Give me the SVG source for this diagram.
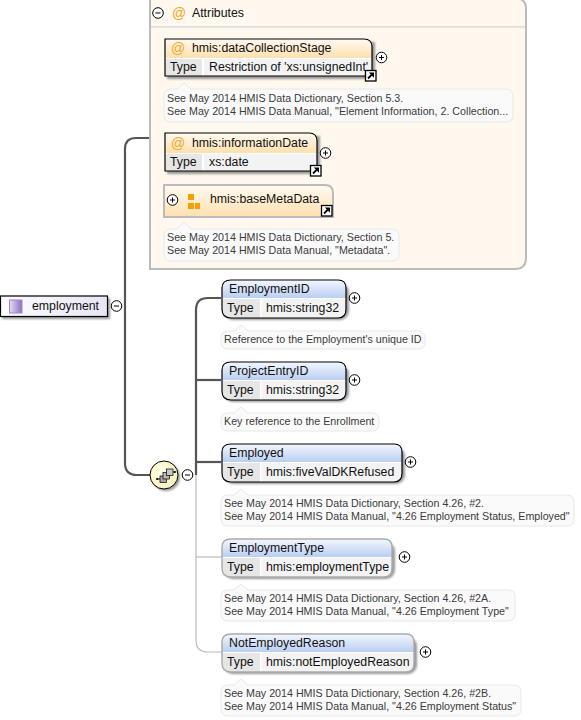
<svg xmlns="http://www.w3.org/2000/svg" width="581" height="720" viewBox="0 0 581 720">
<style>
text{font-family:"Liberation Sans",Arial,sans-serif;fill:#000}
.n{font-size:12.3px;fill:#111}
.d{font-size:10.7px;fill:#3a3a3a}
.at{font-size:14px;fill:#f5a623}
.note{fill:#fafafa;stroke:#e8e8e8;stroke-width:1}
.cell{fill:#e6e6e6}
.val{fill:#f3f3f3}
.sym{fill:#fff;stroke:#000;stroke-width:1}
.symt{stroke:#000;stroke-width:1;fill:none}
.blk{fill:none;stroke:#000;stroke-width:1.2}
.gry{fill:none;stroke:#aaa;stroke-width:1.4}
.con{fill:none;stroke:#555;stroke-width:2.2}
.lite{fill:none;stroke:#bbb;stroke-width:1.2}
.sh{fill:#777;opacity:.75;filter:url(#bl)}
</style>
<defs>
<filter id="bl" x="-10%" y="-20%" width="120%" height="140%"><feGaussianBlur stdDeviation=".9"/></filter>
<linearGradient id="o" x1="0" y1="0" x2="0" y2="1"><stop offset="0" stop-color="#fffaf2"/><stop offset=".52" stop-color="#ffe0ae"/></linearGradient>
<linearGradient id="o2" x1="0" y1="0" x2="0" y2="1"><stop offset="0" stop-color="#fffaf2"/><stop offset="1" stop-color="#ffe0ae"/></linearGradient>
<linearGradient id="b" x1="0" y1="0" x2="0" y2="1"><stop offset="0" stop-color="#f4f7fe"/><stop offset=".5" stop-color="#b6ccf2"/></linearGradient>
<linearGradient id="p" x1="0" y1="0" x2="1" y2="0"><stop offset="0" stop-color="#fdfcff"/><stop offset="1" stop-color="#e8e4f4"/></linearGradient>
<linearGradient id="pi" x1="0" y1="0" x2="1" y2="0"><stop offset="0" stop-color="#e4ddf4"/><stop offset="1" stop-color="#8a70c0"/></linearGradient>
<linearGradient id="dv" x1="0" y1="0" x2="0" y2="1"><stop offset="0" stop-color="#d8d8d8"/><stop offset="1" stop-color="#fff8ee"/></linearGradient>
<radialGradient id="y" cx=".4" cy=".4" r=".7"><stop offset="0" stop-color="#ffffe6"/><stop offset="1" stop-color="#f6f0b8"/></radialGradient>
<g id="plus"><circle r="5.300" class="sym"/><path d="M-2.500 0H2.500M0-2.500V2.500" class="symt"/></g>
<g id="minus"><circle r="5.300" class="sym"/><path d="M-2.500 0H2.500" class="symt"/></g>
<g id="link"><rect x=".5" y=".5" width="10.500" height="10.500" fill="#fff" stroke="#000" stroke-width="1.300"/><path d="M3 8.500L6.800 4.700" stroke="#000" stroke-width="1.800"/><path d="M3.800 2.500H9V7.700Z" fill="#000"/></g>
</defs>

<g id="connectors">
<path class="con" d="M125 306V149Q125 138 136 138H165"/>
<path class="con" d="M125 306V463Q125 475 137 475H151"/>
<path class="con" d="M196 475V310Q196 298 208 298H221"/>
<path class="con" d="M196 380H221"/>
<path class="con" d="M196 462H221"/>
<path class="lite" d="M196 475V640Q196 652 208 652H222"/>
<path class="lite" d="M196 557H222"/>
</g>

<g id="attributes">
<path d="M150 -2H515Q526 -2 526 9V258Q526 269 515 269H150Z" fill="#fff8ee" stroke="#bbb" stroke-width="2"/>
<rect x="151" y="26" width="374" height="3" fill="url(#dv)"/>
<use href="#minus" x="158" y="13"/>
<text class="at" x="172" y="18">@</text>
<text class="n" x="192" y="17">Attributes</text>
</g>

<g id="dataCollectionStage">
<rect x="167" y="42" width="208" height="37" class="sh"/>
<path d="M165 39H364Q372 39 372 47V76H165Z" fill="url(#o)"/>
<rect x="165" y="58" width="207" height="18" fill="#fff"/>
<rect x="165" y="59" width="37" height="17" class="cell"/>
<rect x="204" y="59" width="168" height="17" class="val"/>
<path class="blk" d="M165 39H364Q372 39 372 47V76H165Z"/>
<text class="at" x="171" y="53">@</text>
<text class="n" x="192" y="52">hmis:dataCollectionStage</text>
<text class="n" x="170" y="71">Type</text>
<text class="n" x="209" y="71">Restriction of 'xs:unsignedInt'</text>
<use href="#link" x="365" y="70"/>
<use href="#plus" x="381.500" y="57.500"/>
</g>
<g id="note1">
<path class="note" d="M171 89Q164 89 164 96V115Q164 122 171 122H506Q513 122 513 115V96Q513 89 506 89H191L184 83L177 89Z"/>
<text class="d" x="167" y="102">See May 2014 HMIS Data Dictionary, Section 5.3.</text>
<text class="d" x="167" y="115">See May 2014 HMIS Data Manual, "Element Information, 2. Collection...</text>
</g>

<g id="informationDate">
<rect x="167" y="136" width="153" height="38" class="sh"/>
<path d="M165 133H309Q317 133 317 141V171H165Z" fill="url(#o)"/>
<rect x="165" y="153" width="152" height="18" fill="#fff"/>
<rect x="165" y="154" width="37" height="17" class="cell"/>
<rect x="204" y="154" width="113" height="17" class="val"/>
<path class="blk" d="M165 133H309Q317 133 317 141V171H165Z"/>
<text class="at" x="171" y="148">@</text>
<text class="n" x="192" y="147">hmis:informationDate</text>
<text class="n" x="170" y="166">Type</text>
<text class="n" x="209" y="166">xs:date</text>
<use href="#link" x="310" y="165"/>
<use href="#plus" x="325.500" y="153"/>
</g>

<g id="baseMetaData">
<path d="M164 185H325Q333 185 333 193V217H164Z" fill="url(#o2)" stroke="#bbb" stroke-width="2"/>
<use href="#plus" x="172.500" y="200"/>
<path d="M188 194H194V200H188ZM188 203H194V209H188ZM195 203H200V209H195Z" fill="#f5a000"/>
<text class="n" x="210" y="203">hmis:baseMetaData</text>
<use href="#link" x="321" y="205"/>
</g>
<g id="note2">
<path class="note" d="M171 229Q164 229 164 236V254Q164 261 171 261H392Q399 261 399 254V236Q399 229 392 229H191L184 222L177 229Z"/>
<text class="d" x="167" y="241">See May 2014 HMIS Data Dictionary, Section 5.</text>
<text class="d" x="167" y="254">See May 2014 HMIS Data Manual, "Metadata".</text>
</g>

<g id="employment">
<rect x="2" y="298" width="108" height="21" class="sh"/>
<rect x=".5" y="296" width="107" height="20.500" fill="url(#p)" stroke="#000" stroke-width="1.200"/>
<rect x="9.500" y="300" width="12.500" height="13" fill="url(#pi)" stroke="#9a88c8"/>
<text class="n" x="32" y="310">employment</text>
<use href="#minus" x="116.500" y="306"/>
</g>

<g id="sequence">
<circle cx="166" cy="477" r="14" class="sh"/>
<circle cx="164" cy="475" r="14" fill="url(#y)" stroke="#000"/>
<path d="M157 479H163M169 472H175" stroke="#000" stroke-width="1.200"/>
<circle cx="157" cy="479" r="1"/>
<circle cx="175" cy="472" r="1"/>
<rect x="160" y="476" width="6.500" height="6.500" fill="#a8a8a8" stroke="#000" stroke-width=".7"/>
<rect x="163" y="472.500" width="6.500" height="6.500" fill="#b8b8b8" stroke="#000" stroke-width=".7"/>
<rect x="166.500" y="469" width="6.500" height="6.500" fill="#c8c8c8" stroke="#000" stroke-width=".7"/>
<use href="#minus" x="187.500" y="475"/>
</g>

<g id="EmploymentID">
<rect x="224" y="283" width="125" height="37" rx="9" class="sh"/>
<path d="M231 280H338Q346 280 346 288V309Q346 318 338 318H231Q222 318 222 309V288Q222 280 231 280Z" fill="url(#b)"/>
<path d="M222 298H346V309Q346 318 338 318H231Q222 318 222 309Z" fill="#fff"/>
<path d="M222 299H260V318H231Q222 318 222 309Z" class="cell"/>
<path d="M261.500 299H346V309Q346 318 338 318H261.500Z" class="val"/>
<path class="blk" d="M231 280H338Q346 280 346 288V309Q346 318 338 318H231Q222 318 222 309V288Q222 280 231 280Z"/>
<text class="n" x="229" y="293">EmploymentID</text>
<text class="n" x="227" y="312">Type</text>
<text class="n" x="266" y="312">hmis:string32</text>
<use href="#plus" x="354.500" y="298"/>
</g>
<g id="note3">
<path class="note" d="M228 331Q221 331 221 338V342Q221 349 228 349H418Q425 349 425 342V338Q425 331 418 331H248L241 325L234 331Z"/>
<text class="d" x="224" y="343">Reference to the Employment's unique ID</text>
</g>

<g id="ProjectEntryID">
<rect x="224" y="365" width="125" height="37" rx="9" class="sh"/>
<path d="M231 362H338Q346 362 346 370V391Q346 400 338 400H231Q222 400 222 391V370Q222 362 231 362Z" fill="url(#b)"/>
<path d="M222 380H346V391Q346 400 338 400H231Q222 400 222 391Z" fill="#fff"/>
<path d="M222 381H260V400H231Q222 400 222 391Z" class="cell"/>
<path d="M261.500 381H346V391Q346 400 338 400H261.500Z" class="val"/>
<path class="blk" d="M231 362H338Q346 362 346 370V391Q346 400 338 400H231Q222 400 222 391V370Q222 362 231 362Z"/>
<text class="n" x="229" y="375">ProjectEntryID</text>
<text class="n" x="227" y="394">Type</text>
<text class="n" x="266" y="394">hmis:string32</text>
<use href="#plus" x="354.500" y="380"/>
</g>
<g id="note4">
<path class="note" d="M228 413Q221 413 221 420V424Q221 431 228 431H372Q379 431 379 424V420Q379 413 372 413H248L241 407L234 413Z"/>
<text class="d" x="224" y="425">Key reference to the Enrollment</text>
</g>

<g id="Employed">
<rect x="224" y="447" width="181" height="37" rx="9" class="sh"/>
<path d="M231 444H394Q402 444 402 452V473Q402 482 394 482H231Q222 482 222 473V452Q222 444 231 444Z" fill="url(#b)"/>
<path d="M222 462H402V473Q402 482 394 482H231Q222 482 222 473Z" fill="#fff"/>
<path d="M222 463H260V482H231Q222 482 222 473Z" class="cell"/>
<path d="M261.500 463H402V473Q402 482 394 482H261.500Z" class="val"/>
<path class="blk" d="M231 444H394Q402 444 402 452V473Q402 482 394 482H231Q222 482 222 473V452Q222 444 231 444Z"/>
<text class="n" x="229" y="457">Employed</text>
<text class="n" x="227" y="476">Type</text>
<text class="n" x="266" y="476">hmis:fiveValDKRefused</text>
<use href="#plus" x="410.500" y="462"/>
</g>
<g id="note5">
<path class="note" d="M228 495Q221 495 221 502V519Q221 526 228 526H567Q574 526 574 519V502Q574 495 567 495H248L241 489L234 495Z"/>
<text class="d" x="224" y="507">See May 2014 HMIS Data Dictionary, Section 4.26, #2.</text>
<text class="d" x="224" y="520">See May 2014 HMIS Data Manual, "4.26 Employment Status, Employed"</text>
</g>

<g id="EmploymentType">
<rect x="224" y="542" width="171" height="37" rx="9" class="sh"/>
<path d="M231 539H384Q392 539 392 547V568Q392 577 384 577H231Q222 577 222 568V547Q222 539 231 539Z" fill="url(#b)"/>
<path d="M222 557H392V568Q392 577 384 577H231Q222 577 222 568Z" fill="#fff"/>
<path d="M222 558H260V577H231Q222 577 222 568Z" class="cell"/>
<path d="M261.500 558H392V568Q392 577 384 577H261.500Z" class="val"/>
<path class="gry" d="M231 539H384Q392 539 392 547V568Q392 577 384 577H231Q222 577 222 568V547Q222 539 231 539Z"/>
<text class="n" x="229" y="552">EmploymentType</text>
<text class="n" x="227" y="571">Type</text>
<text class="n" x="266" y="571">hmis:employmentType</text>
<use href="#plus" x="404.500" y="557"/>
</g>
<g id="note6">
<path class="note" d="M228 590Q221 590 221 597V614Q221 621 228 621H508Q515 621 515 614V597Q515 590 508 590H248L241 584L234 590Z"/>
<text class="d" x="224" y="602">See May 2014 HMIS Data Dictionary, Section 4.26, #2A.</text>
<text class="d" x="224" y="615">See May 2014 HMIS Data Manual, "4.26 Employment Type"</text>
</g>

<g id="NotEmployedReason">
<rect x="224" y="637" width="193" height="37" rx="9" class="sh"/>
<path d="M231 634H406Q414 634 414 642V663Q414 672 406 672H231Q222 672 222 663V642Q222 634 231 634Z" fill="url(#b)"/>
<path d="M222 652H414V663Q414 672 406 672H231Q222 672 222 663Z" fill="#fff"/>
<path d="M222 653H260V672H231Q222 672 222 663Z" class="cell"/>
<path d="M261.500 653H414V663Q414 672 406 672H261.500Z" class="val"/>
<path class="gry" d="M231 634H406Q414 634 414 642V663Q414 672 406 672H231Q222 672 222 663V642Q222 634 231 634Z"/>
<text class="n" x="229" y="647">NotEmployedReason</text>
<text class="n" x="227" y="666">Type</text>
<text class="n" x="266" y="666">hmis:notEmployedReason</text>
<use href="#plus" x="425.500" y="652"/>
</g>
<g id="note7">
<path class="note" d="M228 685Q221 685 221 692V709Q221 716 228 716H514Q521 716 521 709V692Q521 685 514 685H248L241 679L234 685Z"/>
<text class="d" x="224" y="697">See May 2014 HMIS Data Dictionary, Section 4.26, #2B.</text>
<text class="d" x="224" y="710">See May 2014 HMIS Data Manual, "4.26 Employment Status"</text>
</g>
</svg>
